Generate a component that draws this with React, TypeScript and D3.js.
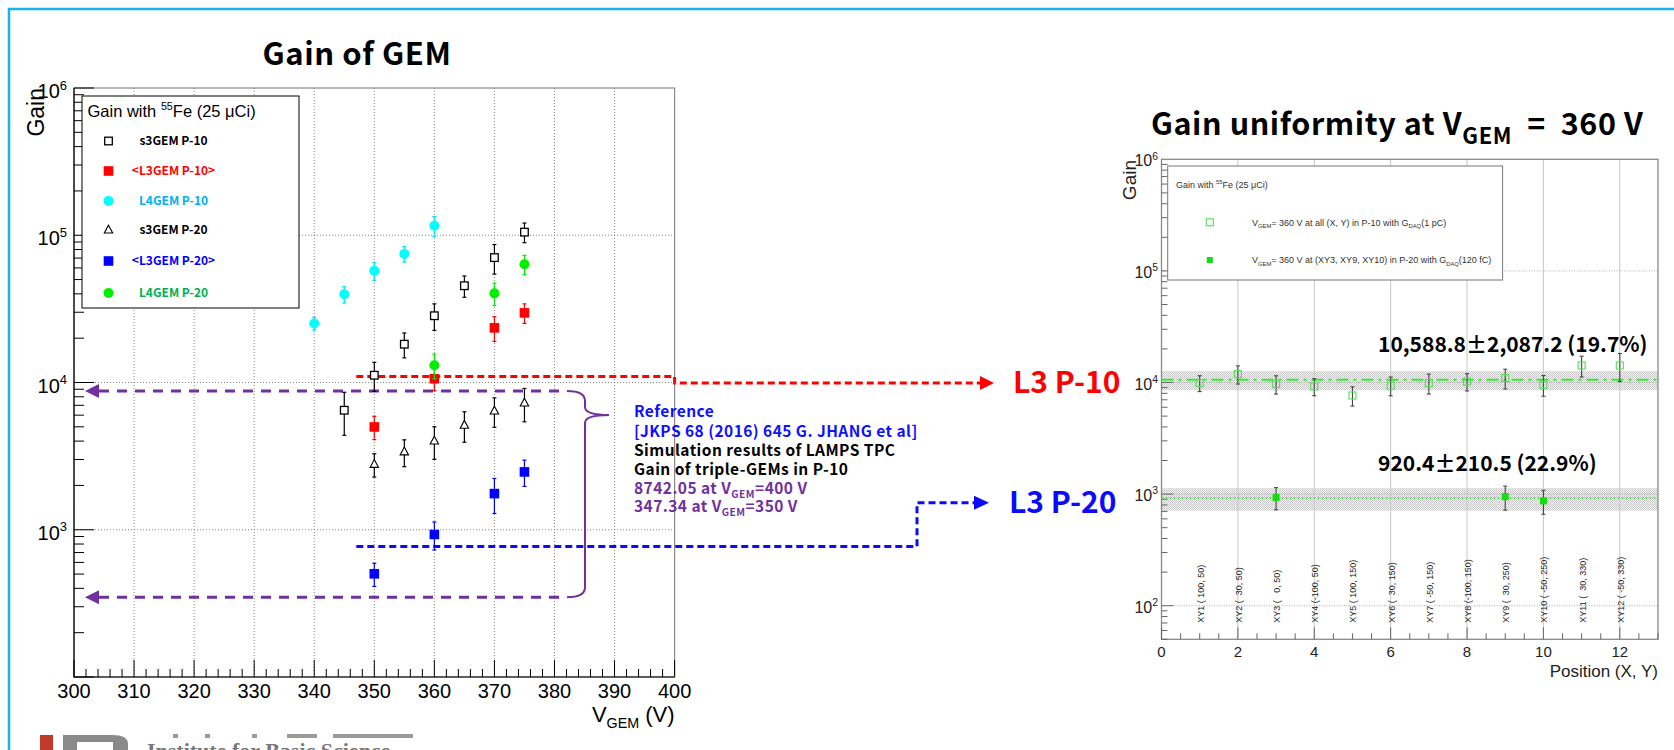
import React, { useEffect, useRef } from 'react'
import * as d3 from 'd3'

// ---- left panel: gain vs V_GEM, rows are [V_GEM, gain, error]
const s3gemP10 = [[345, 6480, 2100], [350, 11200, 2500], [355, 18200, 3500], [360, 28400, 5800], [365, 45400, 7500], [370, 70500, 16000], [375, 105000, 16000]]
const l3gemP10 = [[350, 4990, 900], [360, 10600, 1800], [370, 23500, 4500], [375, 29700, 4500]]
const l4gemP10 = [[340, 25200, 2500], [345, 39700, 5000], [350, 57400, 8000], [355, 74700, 9000], [360, 116000, 18000]]
const s3gemP20 = [[350, 2780, 500], [355, 3380, 700], [360, 4010, 1000], [365, 5130, 1200], [370, 6410, 1450], [375, 7260, 1850]]
const l3gemP20 = [[350, 502, 90], [360, 929, 200], [370, 1760, 470], [375, 2470, 500]]
const l4gemP20 = [[360, 13100, 2500], [370, 40300, 7000], [375, 63500, 9500]]

const leftLabels = ['s3GEM P-10', '<L3GEM P-10>', 'L4GEM P-10', 's3GEM P-20', '<L3GEM P-20>', 'L4GEM P-20']
const xTicksLeft = [300, 310, 320, 330, 340, 350, 360, 370, 380, 390, 400]
const decadesLeft = [2, 3, 4, 5, 6]

// reference levels (simulation) and measured L3 levels
const simGain = [8742.05, 347.34]
const l3Levels = [11000, 770]

// ---- right panel: gain uniformity at 360 V
const positions = [1, 2, 3, 4, 5, 6, 7, 8, 9, 10, 11, 12]
const posLabels = ['XY1 ( 100, 50)', 'XY2 (  30, 50)', 'XY3 (   0, 50)', 'XY4 (-100, 50)', 'XY5 ( 100, 150)', 'XY6 (  30, 150)', 'XY7 ( -50, 150)', 'XY8 (-100, 150)', 'XY9 (  30, 250)', 'XY10 ( -50, 250)', 'XY11 (  30, 330)', 'XY12 ( -50, 330)']
const gainP10 = [9890, 11890, 9680, 9210, 7650, 9400, 9890, 10200, 10950, 9540, 14200, 14200]
const errP10 = [1600, 2200, 1800, 1600, 1500, 1800, 2000, 1800, 2200, 2000, 3000, 4000]
const posP20 = [3, 9, 10]
const gainP20 = [933, 948, 870]
const errP20 = [210, 230, 210]
const meanP10 = [10588.8, 2087.2]
const meanP20 = [920.4, 210.5]
const xTicksRight = [0, 2, 4, 6, 8, 10, 12]
const decadesRight = [2, 3, 4, 5, 6]

const ROOT = '"Liberation Sans", Arial, sans-serif'
const SLIDE = '"Noto Sans CJK KR", "Noto Sans", sans-serif'

type Part = [string, string]

function rich(g: any, x: number, y: number, parts: Part[], size: number, o: any = {}) {
  const t = g.append('text').attr('x', x).attr('y', y)
    .attr('font-size', size).attr('font-family', o.family || ROOT)
    .attr('font-weight', o.weight || 'normal').attr('fill', o.fill || '#000')
    .attr('text-anchor', o.anchor || 'start').style('white-space', 'pre')
  if (o.spacing) t.attr('letter-spacing', o.spacing)
  let cur = 0
  parts.forEach(([s, k]) => {
    const off = k === 'sub' ? size * 0.28 : k === 'sup' ? -size * 0.42 : 0
    const ts = t.append('tspan').text(s).attr('dy', off - cur)
    if (k !== 'n') ts.attr('font-size', size * (o.small || 0.65))
    cur = off
  })
  return t
}

function marker(g: any, shape: string, x: number, y: number, color: string) {
  if (shape === 'open') {
    g.append('rect').attr('x', x - 3.8).attr('y', y - 3.8).attr('width', 7.6).attr('height', 7.6)
      .attr('fill', 'white').attr('stroke', color).attr('stroke-width', 1.3)
  } else if (shape === 'square') {
    g.append('rect').attr('x', x - 4.8).attr('y', y - 4.8).attr('width', 9.6).attr('height', 9.6).attr('fill', color)
  } else if (shape === 'circle') {
    g.append('circle').attr('cx', x).attr('cy', y).attr('r', 5).attr('fill', color)
  } else if (shape === 'tri') {
    g.append('path').attr('d', `M${x},${y - 4.8}L${x + 4.2},${y + 3}L${x - 4.2},${y + 3}Z`)
      .attr('fill', 'white').attr('stroke', color).attr('stroke-width', 1.1)
  }
}

function errBar(g: any, x: number, y1: number, y2: number, color: string, w = 1.2) {
  g.append('line').attr('x1', x).attr('x2', x).attr('y1', y1).attr('y2', y2).attr('stroke', color).attr('stroke-width', w)
  ;[y1, y2].forEach((yy) => g.append('line').attr('x1', x - 2).attr('x2', x + 2).attr('y1', yy).attr('y2', yy).attr('stroke', color).attr('stroke-width', w))
}

const App = () => {
  const ref = useRef<SVGSVGElement>(null)

  useEffect(() => {
    const svg = d3.select(ref.current)
    svg.selectAll('*').remove()

    const defs = svg.append('defs')
    const pat = defs.append('pattern').attr('id', 'band').attr('width', 2).attr('height', 2).attr('patternUnits', 'userSpaceOnUse')
    pat.append('rect').attr('width', 2).attr('height', 2).attr('fill', '#f2f2f2')
    pat.append('rect').attr('width', 1).attr('height', 1).attr('fill', '#c4c4c4')
    pat.append('rect').attr('x', 1).attr('y', 1).attr('width', 1).attr('height', 1).attr('fill', '#d0d0d0')

    svg.append('rect').attr('width', 1674).attr('height', 750).attr('fill', 'white')
    // slide border
    svg.append('path').attr('d', 'M9,750V9H1674').attr('fill', 'none').attr('stroke', '#14b4f0').attr('stroke-width', 2.5)

    // ================= LEFT PANEL =================
    const lx = d3.scaleLinear().domain([300, 400]).range([74, 674.6])
    const ly = d3.scaleLog().domain([100, 1e6]).range([677, 88])
    const L = svg.append('g')

    L.append('text').attr('x', 357).attr('y', 65).attr('text-anchor', 'middle')
      .attr('font-family', SLIDE).attr('font-weight', 700).attr('font-size', 31).attr('letter-spacing', 0.6).text('Gain of GEM')

    // grid
    xTicksLeft.slice(1, -1).forEach((v) => {
      L.append('line').attr('x1', lx(v)).attr('x2', lx(v)).attr('y1', 88).attr('y2', 677)
        .attr('stroke', '#666').attr('stroke-width', 0.8).attr('stroke-dasharray', '1 2')
    })
    decadesLeft.slice(1, -1).forEach((k) => {
      const y = ly(Math.pow(10, k))
      L.append('line').attr('x1', 74).attr('x2', 674.6).attr('y1', y).attr('y2', y)
        .attr('stroke', '#666').attr('stroke-width', 0.8).attr('stroke-dasharray', '1 2')
    })
    // frame
    L.append('rect').attr('x', 74).attr('y', 88).attr('width', 600.6).attr('height', 589)
      .attr('fill', 'none').attr('stroke', '#8a8a8a').attr('stroke-width', 1.2)
    L.append('path').attr('d', 'M74,88V677H674.6').attr('fill', 'none').attr('stroke', '#000').attr('stroke-width', 1.2)
    d3.range(300, 401, 2).forEach((v) => {
      const len = v % 10 === 0 ? 17 : 8
      L.append('line').attr('x1', lx(v)).attr('x2', lx(v)).attr('y1', 677).attr('y2', 677 - len).attr('stroke', '#000').attr('stroke-width', 1)
    })
    decadesLeft.forEach((k) => {
      d3.range(1, 10).forEach((m) => {
        const g = m * Math.pow(10, k)
        if (g > 1e6) return
        const len = m === 1 ? 20 : 10
        L.append('line').attr('x1', 74).attr('x2', 74 + len).attr('y1', ly(g)).attr('y2', ly(g)).attr('stroke', '#000').attr('stroke-width', 1)
      })
    })
    xTicksLeft.forEach((v) => {
      L.append('text').attr('x', lx(v)).attr('y', 698).attr('text-anchor', 'middle')
        .attr('font-family', ROOT).attr('font-size', 20).text(v)
    })
    decadesLeft.slice(1).forEach((k) => {
      rich(L, 67, ly(Math.pow(10, k)) + 10, [['10', 'n'], [String(k), 'sup']], 20, { anchor: 'end' })
    })
    rich(L, 674.6, 722, [['V', 'n'], ['GEM', 'sub'], [' (V)', 'n']], 22, { anchor: 'end' })
    L.append('text').attr('transform', 'translate(44,88) rotate(-90)').attr('text-anchor', 'end')
      .attr('font-family', ROOT).attr('font-size', 23).text('Gain')

    // legend
    L.append('rect').attr('x', 82).attr('y', 96).attr('width', 217).attr('height', 212)
      .attr('fill', 'white').attr('stroke', '#000').attr('stroke-width', 1)
    rich(L, 87.5, 117, [['Gain with ', 'n'], ['55', 'sup'], ['Fe (25 \u03bcCi)', 'n']], 16.5)

    const series = [
      { data: s3gemP10, shape: 'open', color: '#000', err: '#000', text: '#000' },
      { data: l3gemP10, shape: 'square', color: '#ff0000', err: '#ff0000', text: '#ff0000' },
      { data: l4gemP10, shape: 'circle', color: '#00ffff', err: '#00e0f0', text: '#00b0f0' },
      { data: s3gemP20, shape: 'tri', color: '#000', err: '#000', text: '#000' },
      { data: l3gemP20, shape: 'square', color: '#0000ff', err: '#0000ff', text: '#0000ff' },
      { data: l4gemP20, shape: 'circle', color: '#00ee00', err: '#00ee00', text: '#00b050' },
    ]
    const legY = [141, 171, 201, 230, 261, 293]
    series.forEach((s, i) => {
      marker(L, s.shape, 108.5, legY[i], s.color)
      L.append('text').attr('x', 173.5).attr('y', legY[i] + 4).attr('text-anchor', 'middle')
        .attr('font-family', SLIDE).attr('font-weight', 700).attr('font-size', 12)
        .attr('fill', s.text).text(leftLabels[i])
    })

    // annotation lines (slide overlay)
    const A = svg.append('g')
    const yRed = ly(l3Levels[0])
    const yBlue = ly(l3Levels[1])
    A.append('path').attr('d', `M${lx(347)},${yRed}H674.6V${yRed + 6.5}H980`)
      .attr('fill', 'none').attr('stroke', '#ff0000').attr('stroke-width', 3).attr('stroke-dasharray', '7 4')
    A.append('path').attr('d', `M980,${yRed + 6.5 - 7}L994,${yRed + 6.5}L980,${yRed + 6.5 + 7}Z`).attr('fill', '#ff0000')
    A.append('path').attr('d', `M${lx(347)},${yBlue}H917V502.7H974`)
      .attr('fill', 'none').attr('stroke', '#0a0aff').attr('stroke-width', 3).attr('stroke-dasharray', '7 4')
    A.append('path').attr('d', 'M974,495.7L989,502.7L974,509.7Z').attr('fill', '#0a0aff')
    A.append('text').attr('x', 1013).attr('y', yRed + 17).attr('font-family', SLIDE).attr('font-weight', 700)
      .attr('font-size', 30).attr('fill', '#ff0000').text('L3 P-10')
    A.append('text').attr('x', 1009).attr('y', 513).attr('font-family', SLIDE).attr('font-weight', 700)
      .attr('font-size', 30).attr('fill', '#0a0aff').text('L3 P-20')

    const purple = '#7030a0'
    const yTop = ly(simGain[0])
    const yBot = ly(simGain[1])
    ;[yTop, yBot].forEach((y) => {
      A.append('line').attr('x1', 99).attr('x2', 567).attr('y1', y).attr('y2', y)
        .attr('stroke', purple).attr('stroke-width', 3).attr('stroke-dasharray', '10 8')
      A.append('path').attr('d', `M99,${y - 7}L85,${y}L99,${y + 7}Z`).attr('fill', purple)
    })
    const yMid = 415
    A.append('path')
      .attr('d', `M567,${yTop}Q585,${yTop} 585,${yTop + 10}V${yMid - 8}Q585,${yMid} 609,${yMid}Q585,${yMid} 585,${yMid + 8}V${yBot - 10}Q585,${yBot} 567,${yBot}`)
      .attr('fill', 'none').attr('stroke', purple).attr('stroke-width', 2)

    const noteSize = 15.5
    const note = { family: SLIDE, weight: 700, spacing: 0.45 }
    rich(A, 634, 417, [['Reference', 'n']], noteSize, { ...note, fill: '#1010ff' })
    rich(A, 634, 436.5, [['[JKPS 68 (2016) 645 G. JHANG et al]', 'n']], noteSize, { ...note, fill: '#1010ff' })
    rich(A, 634, 455.5, [['Simulation results of LAMPS TPC', 'n']], noteSize, { ...note, fill: '#000' })
    rich(A, 634, 474.5, [['Gain of triple-GEMs in P-10', 'n']], noteSize, { ...note, fill: '#000' })
    rich(A, 634, 494, [[`${simGain[0]} at V`, 'n'], ['GEM', 'sub'], ['=400 V', 'n']], noteSize, { ...note, fill: purple, small: 0.66 })
    rich(A, 634, 512, [[`${simGain[1]} at V`, 'n'], ['GEM', 'sub'], ['=350 V', 'n']], noteSize, { ...note, fill: purple, small: 0.66 })

    // data points
    const D = svg.append('g')
    series.forEach((s) => {
      s.data.forEach(([v, g, e]) => {
        errBar(D, lx(v), ly(g - e), ly(g + e), s.err)
      })
      s.data.forEach(([v, g]) => marker(D, s.shape, lx(v), ly(g), s.color))
    })

    // ================= RIGHT PANEL =================
    const rx = d3.scaleLinear().domain([0, 13]).range([1161.5, 1658])
    const ry = d3.scaleLog().domain([50, 1e6]).range([639.3, 159.3])
    const R = svg.append('g')

    rich(R, 1151, 135, [['Gain uniformity at V', 'n'], ['GEM', 'sub'], ['  =  360 V', 'n']], 30.5, { family: SLIDE, weight: 700, small: 0.72, spacing: 0.6 })

    // bands
    ;[meanP10, meanP20].forEach(([m, s]) => {
      R.append('rect').attr('x', 1161.5).attr('width', 1658 - 1161.5)
        .attr('y', ry(m + s)).attr('height', ry(m - s) - ry(m + s)).attr('fill', 'url(#band)')
    })
    xTicksRight.slice(1).forEach((v) => {
      R.append('line').attr('x1', rx(v)).attr('x2', rx(v)).attr('y1', 159.3).attr('y2', 639.3)
        .attr('stroke', '#c8c8c8').attr('stroke-width', 1)
    })
    decadesRight.slice(0, -1).forEach((k) => {
      const y = ry(Math.pow(10, k))
      R.append('line').attr('x1', 1161.5).attr('x2', 1658).attr('y1', y).attr('y2', y)
        .attr('stroke', '#999').attr('stroke-width', 0.8).attr('stroke-dasharray', '1 1.5')
    })
    R.append('rect').attr('x', 1161.5).attr('y', 159.3).attr('width', 1658 - 1161.5).attr('height', 480)
      .attr('fill', 'none').attr('stroke', '#8a8a8a').attr('stroke-width', 1.3)
    d3.range(0, 13.01, 0.5).forEach((v) => {
      const len = v % 2 === 0 ? 12 : 6
      R.append('line').attr('x1', rx(v)).attr('x2', rx(v)).attr('y1', 639.3).attr('y2', 639.3 - len).attr('stroke', '#666')
    })
    ;[1, 2, 3, 4, 5].forEach((k) => {
      d3.range(1, 10).forEach((m) => {
        const g = m * Math.pow(10, k)
        if (g < 50 || g > 1e6) return
        const len = m === 1 ? 12 : 6
        R.append('line').attr('x1', 1161.5).attr('x2', 1161.5 + len).attr('y1', ry(g)).attr('y2', ry(g)).attr('stroke', '#666')
      })
    })
    xTicksRight.forEach((v) => {
      R.append('text').attr('x', rx(v)).attr('y', 657).attr('text-anchor', 'middle')
        .attr('font-family', ROOT).attr('font-size', 15).attr('fill', '#222').text(v)
    })
    decadesRight.forEach((k) => {
      rich(R, 1158, ry(Math.pow(10, k)) + 7, [['10', 'n'], [String(k), 'sup']], 16, { anchor: 'end', fill: '#222' })
    })
    R.append('text').attr('x', 1658).attr('y', 677).attr('text-anchor', 'end')
      .attr('font-family', ROOT).attr('font-size', 17).attr('fill', '#222').text('Position (X, Y)')
    R.append('text').attr('transform', 'translate(1136,160) rotate(-90)').attr('text-anchor', 'end')
      .attr('font-family', ROOT).attr('font-size', 19).attr('fill', '#222').text('Gain')

    // mean lines
    R.append('line').attr('x1', 1161.5).attr('x2', 1658).attr('y1', ry(meanP10[0])).attr('y2', ry(meanP10[0]))
      .attr('stroke', '#33ee33').attr('stroke-width', 1.8).attr('stroke-dasharray', '12 5 3 5')
    R.append('line').attr('x1', 1161.5).attr('x2', 1658).attr('y1', ry(meanP20[0])).attr('y2', ry(meanP20[0]))
      .attr('stroke', '#33ee33').attr('stroke-width', 1.5).attr('stroke-dasharray', '2 2')

    // position labels
    positions.forEach((p, i) => {
      R.append('text').attr('transform', `translate(${rx(p) + 4},622.7) rotate(-90)`)
        .attr('font-family', ROOT).attr('font-size', 9).attr('fill', '#222')
        .style('white-space', 'pre').text(posLabels[i])
    })

    // legend
    R.append('rect').attr('x', 1167.7).attr('y', 166).attr('width', 334.9).attr('height', 114)
      .attr('fill', 'white').attr('stroke', '#777').attr('stroke-width', 1)
    rich(R, 1176, 188, [['Gain with ', 'n'], ['55', 'sup'], ['Fe (25 \u03bcCi)', 'n']], 9, { fill: '#333' })
    R.append('rect').attr('x', 1206.3).attr('y', 218.8).attr('width', 7).attr('height', 7)
      .attr('fill', 'white').attr('stroke', '#55dd55').attr('stroke-width', 1.1)
    R.append('rect').attr('x', 1206.8).attr('y', 257).attr('width', 6).attr('height', 6).attr('fill', '#11dd11')
    rich(R, 1252, 225.5, [['V', 'n'], ['GEM', 'sub'], ['= 360 V at all (X, Y) in P-10 with G', 'n'], ['DAQ', 'sub'], ['(1 pC)', 'n']], 9, { fill: '#333' })
    rich(R, 1252, 263, [['V', 'n'], ['GEM', 'sub'], ['= 360 V at (XY3, XY9, XY10) in P-20 with G', 'n'], ['DAQ', 'sub'], ['(120 fC)', 'n']], 9, { fill: '#333' })

    // data
    positions.forEach((p, i) => {
      errBar(R, rx(p), ry(gainP10[i] - errP10[i]), ry(gainP10[i] + errP10[i]), '#444', 1.1)
    })
    positions.forEach((p, i) => {
      R.append('rect').attr('x', rx(p) - 3.5).attr('y', ry(gainP10[i]) - 3.5).attr('width', 7).attr('height', 7)
        .attr('fill', 'none').attr('stroke', '#55dd55').attr('stroke-width', 1.1)
    })
    posP20.forEach((p, i) => {
      errBar(R, rx(p), ry(gainP20[i] - errP20[i]), ry(gainP20[i] + errP20[i]), '#444', 1.1)
      R.append('rect').attr('x', rx(p) - 3.5).attr('y', ry(gainP20[i]) - 3.5).attr('width', 7).attr('height', 7).attr('fill', '#11dd11')
    })

    const fmt = d3.format(',.1f')
    R.append('text').attr('x', 1378).attr('y', 351.7).attr('font-family', SLIDE).attr('font-weight', 700).attr('font-size', 21)
      .text(`${fmt(meanP10[0])}\u00b1${fmt(meanP10[1])} (${(100 * meanP10[1] / meanP10[0]).toFixed(1)}%)`)
    R.append('text').attr('x', 1378).attr('y', 470.7).attr('font-family', SLIDE).attr('font-weight', 700).attr('font-size', 21)
      .text(`${fmt(meanP20[0])}\u00b1${fmt(meanP20[1])} (${(100 * meanP20[1] / meanP20[0]).toFixed(1)}%)`)

    // institute logo, cut by the page edge
    const G = svg.append('g')
    G.append('rect').attr('x', 40).attr('y', 735).attr('width', 13).attr('height', 15).attr('fill', '#c0392b')
    G.append('rect').attr('x', 63).attr('y', 735).attr('width', 14).attr('height', 15).attr('fill', '#8a8a8a')
    G.append('path').attr('d', 'M77,735H112Q128,735 128,744V750H113V742H77Z').attr('fill', '#8a8a8a')
    ;[[173, 5], [205, 5], [252, 5], [287, 30], [333, 80]].forEach(([x, w]) => {
      G.append('rect').attr('x', x).attr('y', 734).attr('width', w).attr('height', 4).attr('fill', '#9a9a9a')
    })
    G.append('text').attr('x', 147).attr('y', 758).attr('font-family', '"Liberation Serif", serif')
      .attr('font-weight', 700).attr('font-size', 22).attr('fill', '#777').text('Institute for Basic Science')
  }, [])

  return (
    <svg ref={ref} width={1674} height={750}
      style={{ position: 'absolute', left: 0, top: 0, display: 'block' }} />
  )
}

export default App
